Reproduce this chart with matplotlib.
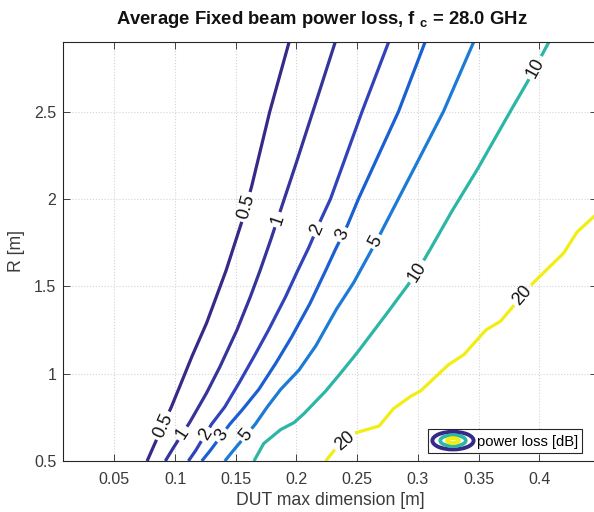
import matplotlib
matplotlib.use("Agg")
import matplotlib.pyplot as plt
import numpy as np
from matplotlib.contour import ContourSet
from matplotlib.legend_handler import HandlerBase
from matplotlib.patches import Ellipse, Patch

plt.rcParams["font.family"] = ["Liberation Sans", "DejaVu Sans"]
plt.rcParams["mathtext.fontset"] = "custom"
plt.rcParams["mathtext.rm"] = "Liberation Sans"
plt.rcParams["mathtext.bf"] = "Liberation Sans:bold"

INK = "#262626"
GRID = "#d4d4d4"

# contour levels [dB] and their parula colours
levels = [0.5, 1, 2, 3, 5, 10, 20]
level_colors = ["#352A87", "#36349B", "#3243BA", "#1A60D2", "#1C7BD6",
                "#2BB6A5", "#F2EE14"]

# each contour: R [m] and DUT max dimension [m]
r_05 = [0.50, 0.61, 0.81, 0.98, 1.10, 1.29, 1.59, 1.87, 2.07, 2.50, 2.90]
x_05 = [0.077, 0.084, 0.097, 0.107, 0.114, 0.126, 0.142, 0.155, 0.163,
        0.178, 0.194]

r_1 = [0.50, 0.58, 0.72, 0.89, 1.04, 1.25, 1.44, 1.59, 1.77, 1.98, 2.21,
       2.64, 2.90]
x_1 = [0.092, 0.099, 0.112, 0.126, 0.137, 0.151, 0.162, 0.170, 0.179,
       0.189, 0.200, 0.220, 0.232]

r_2 = [0.50, 0.56, 0.71, 0.81, 0.95, 1.11, 1.25, 1.44, 1.59, 1.72, 1.88,
       2.00, 2.50, 2.90]
x_2 = [0.111, 0.117, 0.130, 0.141, 0.153, 0.166, 0.177, 0.191, 0.201,
       0.210, 0.220, 0.228, 0.254, 0.276]

r_3 = [0.50, 0.56, 0.71, 0.79, 0.91, 1.06, 1.21, 1.40, 1.59, 1.71, 1.85,
       2.00, 2.50, 2.90]
x_3 = [0.122, 0.129, 0.145, 0.155, 0.169, 0.183, 0.196, 0.211, 0.224,
       0.232, 0.242, 0.251, 0.284, 0.306]

r_5 = [0.50, 0.56, 0.71, 0.81, 0.91, 1.02, 1.16, 1.37, 1.52, 1.71, 1.80,
       2.19, 2.50, 2.90]
x_5 = [0.141, 0.148, 0.166, 0.176, 0.187, 0.202, 0.216, 0.233, 0.247,
       0.262, 0.269, 0.298, 0.321, 0.346]

r_10 = [0.50, 0.60, 0.68, 0.72, 0.77, 0.90, 1.00, 1.12, 1.35, 1.50, 1.58,
        1.71, 1.93, 2.17, 2.50, 2.68, 2.90]
x_10 = [0.165, 0.173, 0.187, 0.198, 0.206, 0.224, 0.236, 0.250, 0.275,
        0.291, 0.299, 0.310, 0.328, 0.349, 0.376, 0.391, 0.408]

r_20 = [0.50, 0.56, 0.66, 0.70, 0.80, 0.87, 0.90, 1.05, 1.11, 1.25, 1.30,
        1.39, 1.52, 1.69, 1.81, 1.90, 1.94]
x_20 = [0.224, 0.231, 0.248, 0.268, 0.280, 0.294, 0.302, 0.325, 0.338,
        0.356, 0.368, 0.379, 0.395, 0.420, 0.431, 0.445, 0.452]

xticks = [0.05, 0.1, 0.15, 0.2, 0.25, 0.3, 0.35, 0.4]
yticks = [0.5, 1, 1.5, 2, 2.5]

# where the inline labels sit (data coords)
label_pos = [(0.158, 1.955), (0.092, 0.696),
             (0.185, 1.880), (0.106, 0.659),
             (0.218, 1.823), (0.126, 0.649),
             (0.2385, 1.794), (0.140, 0.639),
             (0.2674, 1.749), (0.159, 0.649),
             (0.3967, 2.751), (0.2992, 1.584),
             (0.3858, 1.451), (0.2401, 0.611)]


class ContourIcon(HandlerBase):
    def create_artists(self, legend, orig_handle, xdescent, ydescent,
                       width, height, fontsize, trans):
        cx = width / 2 - xdescent
        cy = height / 2 - ydescent
        arts = []
        for frac, col, lw in ((1.0, level_colors[0], 2.8),
                              (0.62, level_colors[5], 2.6),
                              (0.28, level_colors[6], 2.8)):
            e = Ellipse((cx, cy), width * frac, height * 1.25 * frac,
                        fill=False, edgecolor=col, lw=lw, transform=trans)
            arts.append(e)
        return arts


fig = plt.figure(figsize=(5.94, 5.12), dpi=100)
fig.patch.set_facecolor("white")
ax = fig.add_axes([0.1066, 0.0996, 0.8985, 0.8189])
ax.set_xlim(0.008, 0.4475)
ax.set_ylim(0.5, 2.9)

allsegs = []
for xs, rs in [(x_05, r_05), (x_1, r_1), (x_2, r_2), (x_3, r_3),
               (x_5, r_5), (x_10, r_10), (x_20, r_20)]:
    allsegs.append([np.column_stack([xs, rs])])

cs = ContourSet(ax, levels, allsegs, colors=level_colors, linewidths=2.3)
cs.set_clip_on(True)
ax.clabel(cs, fmt="%g", inline=True, inline_spacing=3, manual=label_pos,
          fontsize=13, colors="#111111")

ax.set_xticks(xticks)
ax.set_yticks(yticks)
ax.set_xticklabels([f"{v:g}" for v in xticks])
ax.set_yticklabels([f"{v:g}" for v in yticks])
ax.tick_params(direction="in", length=5, width=0.6, top=True, right=True,
               colors=INK, labelcolor="#3a3a3a", labelsize=11.5)
ax.tick_params(axis="x", pad=8)
ax.tick_params(axis="y", pad=5)
ax.grid(True, ls=":", color=GRID, lw=0.8)
ax.set_axisbelow(True)
for s in ax.spines.values():
    s.set_color(INK)
    s.set_linewidth(0.8)

ax.set_xlabel("DUT max dimension [m]", fontsize=12.7, color="#3a3a3a")
ax.set_ylabel("R [m]", fontsize=12.7, color="#3a3a3a")
ax.xaxis.set_label_coords(0.5, -0.075)
ax.yaxis.set_label_coords(-0.072, 0.5)

fig.text(0.542, 1 - 20 / 512, r"Average Fixed beam power loss, f $_\mathbf{c}$ = 28.0 GHz",
         ha="center", va="center", fontsize=13.3, fontweight="bold", color="#111111")

icon = Patch()
leg = ax.legend([icon], ["power loss [dB]"], handler_map={icon: ContourIcon()},
                loc="lower right", bbox_to_anchor=(0.972, 0.019),
                borderaxespad=0, fancybox=False, framealpha=1,
                edgecolor=INK, fontsize=10.6, handlelength=2.8,
                handleheight=1.1, handletextpad=0.2, borderpad=0.3)
leg.get_frame().set_linewidth(0.8)

fig.savefig("out.png", dpi=100, facecolor="white")
